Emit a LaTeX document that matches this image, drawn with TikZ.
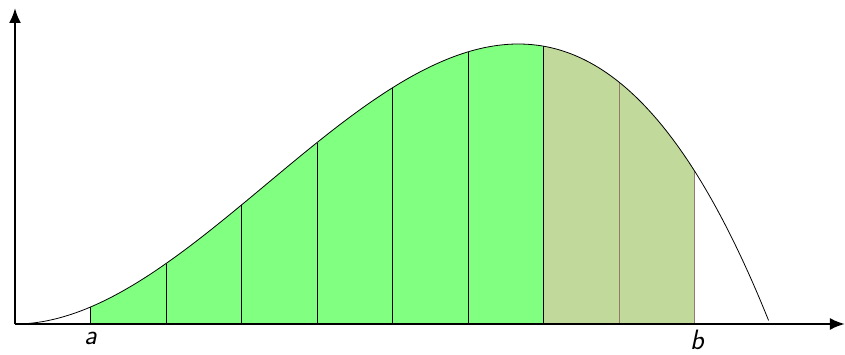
\documentclass[tikz,border=0pt]{standalone}
\usetikzlibrary{arrows.meta}
\definecolor{stripgreen}{RGB}{128,255,128}
\definecolor{stripolive}{RGB}{193,217,154}
\definecolor{oliveline}{RGB}{150,122,104}
\begin{document}
\begin{tikzpicture}[x=1pt,y=1pt,
  axisline/.style={line width=2.4pt,-{Latex[length=15pt,width=12pt]}},
  curveline/.style={line width=0.8pt},
  stripline/.style={line width=0.8pt},
  lbl/.style={font=\fontsize{28}{32}\selectfont\sffamily\itshape,inner sep=0pt,anchor=north}]
\useasboundingbox (0,0) rectangle (845,355);
\begin{scope}[shift={(15,31)},x=755pt,y=1890pt]
  % fills
  \fill[stripgreen] (0.1,0) -- plot[domain=0.1:0.7,samples=60,smooth] (\x,{\x*\x*(1-\x)}) -- (0.7,0) -- cycle;
  \fill[stripolive] (0.7,0) -- plot[domain=0.7:0.9,samples=30,smooth] (\x,{\x*\x*(1-\x)}) -- (0.9,0) -- cycle;
  % strip lines
  \foreach \k in {0.1,0.2,0.3,0.4,0.5,0.6,0.7}
    \draw[stripline] (\k,0) -- (\k,{\k*\k*(1-\k)});
  \draw[stripline,oliveline] (0.8,0) -- (0.8,{0.8*0.8*(1-0.8)});
  \draw[stripline,oliveline!80!gray] (0.9,0) -- (0.9,{0.9*0.9*(1-0.9)});
  \draw[stripline,oliveline] (0.7,0) -- (0.9,0);
  % curve
  \draw[curveline] plot[domain=0:1,samples=150,smooth] (\x,{\x*\x*(1-\x)});
  \coordinate (O) at (0,0);
  \coordinate (Xend) at (1.0993,0);
  \coordinate (Yend) at (0,0.1672);
\end{scope}
\draw[axisline] (O) -- (Xend);
\draw[axisline] (O) -- (Yend);
\node[lbl] (la) at (90.5,23) {a};
\node[lbl] (lb) at (697,25) {b};
\end{tikzpicture}
\end{document}
